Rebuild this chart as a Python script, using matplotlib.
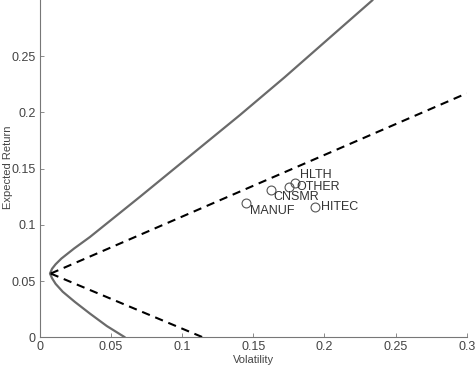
import matplotlib
matplotlib.use("Agg")
import matplotlib.pyplot as plt

# Efficient frontier (solid)
frontier_vol = [0.0597, 0.0470, 0.0351, 0.0245, 0.0160, 0.0110, 0.0085, 0.0070,
                0.0085, 0.0110, 0.0150, 0.0240, 0.0351, 0.0702, 0.1050, 0.1404,
                0.1720, 0.2037, 0.2339]
frontier_ret = [0.0000, 0.0100, 0.0211, 0.0315, 0.0405, 0.0475, 0.0525, 0.0567,
                0.0610, 0.0650, 0.0700, 0.0790, 0.0892, 0.1249, 0.1609, 0.1975,
                0.2313, 0.2665, 0.3000]

# Dashed lines
upper_dash_vol = [0.0075, 0.300]
upper_dash_ret = [0.0567, 0.217]
lower_dash_vol = [0.0075, 0.1145]
lower_dash_ret = [0.0567, 0.000]

# Industry portfolios
names = ["MANUF", "CNSMR", "OTHER", "HLTH", "HITEC"]
vols = [0.1450, 0.1621, 0.1754, 0.1792, 0.1930]
rets = [0.1197, 0.1312, 0.1333, 0.1368, 0.1161]
label_offsets = [(3, -6), (2, -5.5), (5, 0), (4, 6), (5, 0)]

xticks = [0, 0.05, 0.1, 0.15, 0.2, 0.25, 0.3]
xticklabels = ["0", "0.05", "0.1", "0.15", "0.2", "0.25", "0.3"]
yticks = [0, 0.05, 0.1, 0.15, 0.2, 0.25]
yticklabels = ["0", "0.05", "0.1", "0.15", "0.2", "0.25"]

plt.rcParams['font.family'] = ['Liberation Sans', 'DejaVu Sans']

fig = plt.figure(figsize=(4.76, 3.68), dpi=100)
ax = fig.add_axes([40/476, (368-337.3)/368, (466.7-40)/476, 337.3/368])

ax.plot(frontier_vol, frontier_ret, color="#6a6a6a", lw=1.6,
        solid_capstyle="round", solid_joinstyle="round")
ax.plot(upper_dash_vol, upper_dash_ret, color="black", lw=1.5, dashes=(4, 2.8))
ax.plot(lower_dash_vol, lower_dash_ret, color="black", lw=1.5, dashes=(4, 2.8))
ax.plot(vols, rets, linestyle="none", marker="o", markersize=6.4,
        markerfacecolor="none", markeredgecolor="#555555", markeredgewidth=0.8)
for n, x, y, off in zip(names, vols, rets, label_offsets):
    ax.annotate(n, (x, y), xytext=off, textcoords="offset points",
                ha="left", va="center", fontsize=9, color="#333333")

ax.set_xlim(0, 0.3)
ax.set_ylim(0, 0.3)
ax.set_xticks(xticks)
ax.set_xticklabels(xticklabels)
ax.set_yticks(yticks)
ax.set_yticklabels(yticklabels)
for s in ["top", "right"]:
    ax.spines[s].set_visible(False)
for s in ["left", "bottom"]:
    ax.spines[s].set_color("#777777")
    ax.spines[s].set_linewidth(0.8)
ax.tick_params(direction="in", length=3, width=0.6, color="#777777",
               labelsize=9, labelcolor="#444444", pad=3)
ax.set_xlabel("Volatility", fontsize=8, color="#444444", labelpad=1)
ax.set_ylabel("Expected Return", fontsize=8, color="#444444")
ax.yaxis.set_label_coords(-0.063, 0.505)

fig.savefig("out.png", dpi=100)
